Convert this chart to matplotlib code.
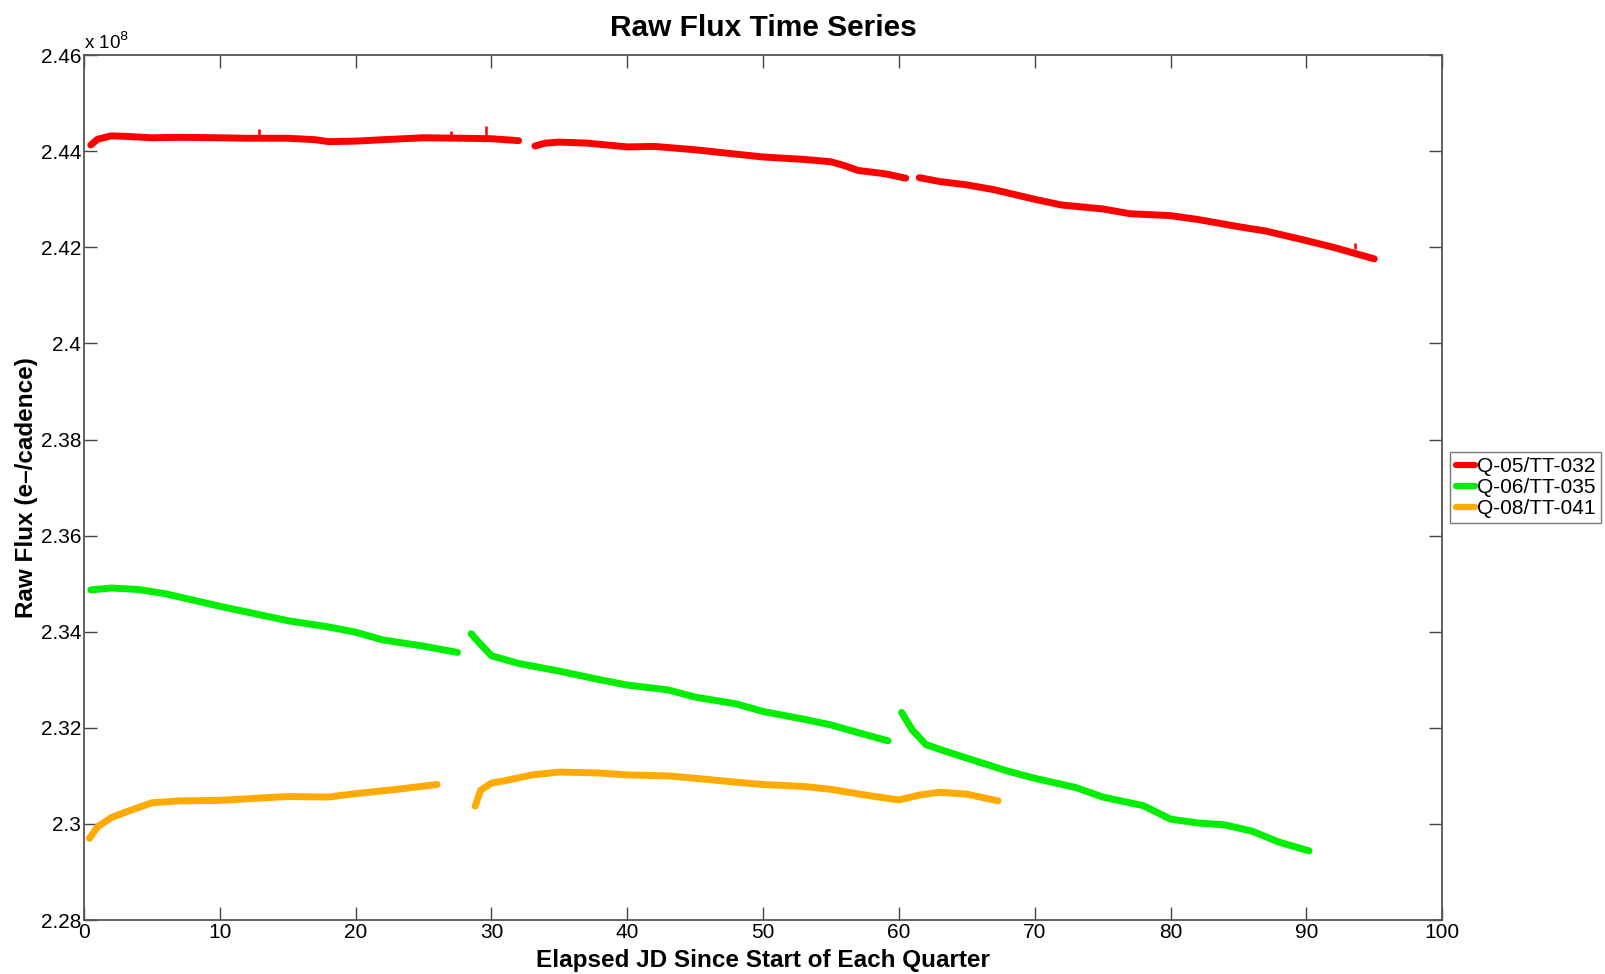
import numpy as np
import matplotlib
matplotlib.use("Agg")
import matplotlib.pyplot as plt

# values (flux in units of 1e8 e-/cadence)
red_x = [[0.5, 1.0, 2.0, 3.0, 5.0, 7.0, 10.0, 12.0, 15.0, 17.0, 18.0, 20.0, 22.0, 25.0, 28.0, 30.0, 32.0],
         [33.2, 34.0, 35.0, 37.0, 40.0, 42.0, 45.0, 47.0, 50.0, 53.0, 55.0, 56.0, 57.0, 59.0, 60.5],
         [61.5, 63.0, 65.0, 67.0, 70.0, 72.0, 75.0, 77.0, 80.0, 82.0, 85.0, 87.0, 90.0, 92.0, 95.0]]
red_y = [[2.4413, 2.4425, 2.4432, 2.4431, 2.4428, 2.4429, 2.4428, 2.4427, 2.4427, 2.4424, 2.4420, 2.4421, 2.4424, 2.4428, 2.4427, 2.4426, 2.4422],
         [2.4411, 2.4417, 2.4419, 2.4417, 2.4409, 2.4410, 2.4403, 2.4397, 2.4388, 2.4383, 2.4378, 2.4370, 2.4360, 2.4353, 2.4344],
         [2.4345, 2.4337, 2.4330, 2.4320, 2.4300, 2.4288, 2.4280, 2.4270, 2.4266, 2.4258, 2.4243, 2.4234, 2.4214, 2.4200, 2.4176]]

green_x = [[0.5, 2.0, 4.0, 6.0, 8.0, 10.0, 12.0, 15.0, 18.0, 20.0, 22.0, 25.0, 27.5],
           [28.5, 29.0, 30.0, 32.0, 35.0, 38.0, 40.0, 43.0, 45.0, 48.0, 50.0, 53.0, 55.0, 57.0, 59.2],
           [60.2, 61.0, 62.0, 64.0, 66.0, 68.0, 70.0, 73.0, 75.0, 78.0, 80.0, 82.0, 84.0, 86.0, 88.0, 90.2]]
green_y = [[2.3487, 2.3491, 2.3488, 2.3479, 2.3466, 2.3453, 2.3441, 2.3423, 2.3410, 2.3399, 2.3383, 2.3370, 2.3357],
           [2.3396, 2.3380, 2.3350, 2.3334, 2.3318, 2.3300, 2.3289, 2.3279, 2.3264, 2.3250, 2.3234, 2.3218, 2.3206, 2.3190, 2.3173],
           [2.3232, 2.3195, 2.3165, 2.3146, 2.3128, 2.3110, 2.3095, 2.3076, 2.3056, 2.3038, 2.3010, 2.3002, 2.2998, 2.2985, 2.2962, 2.2944]]

orange_x = [[0.4, 1.0, 2.0, 3.0, 4.0, 5.0, 7.0, 10.0, 13.0, 15.0, 18.0, 20.0, 23.0, 26.0],
            [28.8, 29.2, 30.0, 31.0, 33.0, 35.0, 38.0, 40.0, 43.0, 45.0, 48.0, 50.0, 53.0, 55.0, 58.0, 60.0, 61.5, 63.0, 65.0, 67.3]]
orange_y = [[2.2970, 2.2994, 2.3013, 2.3024, 2.3034, 2.3044, 2.3048, 2.3049, 2.3054, 2.3057, 2.3056, 2.3063, 2.3072, 2.3082],
            [2.3037, 2.3070, 2.3085, 2.3090, 2.3102, 2.3108, 2.3106, 2.3102, 2.3100, 2.3095, 2.3087, 2.3082, 2.3078, 2.3072, 2.3058, 2.3050, 2.3060, 2.3066, 2.3062, 2.3048]]

# small single-cadence spikes visible on the red curve (x, base, top)
spike_x = [12.9, 27.0, 29.6, 93.6]
spike_lo = [2.4427, 2.4427, 2.4426, 2.4196]
spike_hi = [2.4446, 2.4442, 2.4452, 2.4209]

labels = ["Q-05/TT-032", "Q-06/TT-035", "Q-08/TT-041"]
colors = ["#ff0000", "#00ee00", "#ffaa00"]

plt.rcParams["font.family"] = ["Liberation Sans", "DejaVu Sans"]
fig = plt.figure(figsize=(16.06, 9.74), dpi=100)
ax = fig.add_axes([0.0523, 0.0554, 0.8457, 0.888])

for xs, ys, c, lab in [(red_x, red_y, colors[0], labels[0]),
                       (green_x, green_y, colors[1], labels[1]),
                       (orange_x, orange_y, colors[2], labels[2])]:
    for k, (sx, sy) in enumerate(zip(xs, ys)):
        ax.plot(sx, sy, color=c, lw=5.0, solid_capstyle="round",
                label=lab if k == 0 else None)
ax.vlines(spike_x, spike_lo, spike_hi, color=colors[0], lw=1.8)

ax.set_xlim(0, 100)
ax.set_ylim(2.28, 2.46)
ax.set_xticks(np.arange(0, 101, 10))
ax.set_yticks(np.arange(2.28, 2.461, 0.02))
ax.set_yticklabels(["2.28", "2.3", "2.32", "2.34", "2.36", "2.38", "2.4", "2.42", "2.44", "2.46"])
ax.tick_params(direction="in", length=9.5, width=1.0, color="#444444", labelsize=15,
               top=True, right=True, pad=2)
for s in ax.spines.values():
    s.set_color("#555555")
    s.set_linewidth(1.3)

ax.text(0.0, 1.002, r"x 10$^{8}$", transform=ax.transAxes, fontsize=13.5, ha="left", va="bottom")
ax.set_title("Raw Flux Time Series", fontsize=21.5, fontweight="bold", pad=14)
ax.set_xlabel("Elapsed JD Since Start of Each Quarter", fontsize=17.5, fontweight="bold", labelpad=5)
ax.set_ylabel("Raw Flux (e\u2013/cadence)", fontsize=17.5, fontweight="bold", labelpad=2)

leg = ax.legend(loc="center left", bbox_to_anchor=(1.006, 0.5), fontsize=15,
                frameon=True, fancybox=False, handlelength=0.95, handletextpad=0.1,
                borderpad=0.25, labelspacing=0.1, borderaxespad=0)
leg.get_frame().set_edgecolor("#555555")
leg.get_frame().set_linewidth(1.0)
for h in leg.get_lines():
    h.set_linewidth(4.5)

fig.savefig("out.png", dpi=100)
